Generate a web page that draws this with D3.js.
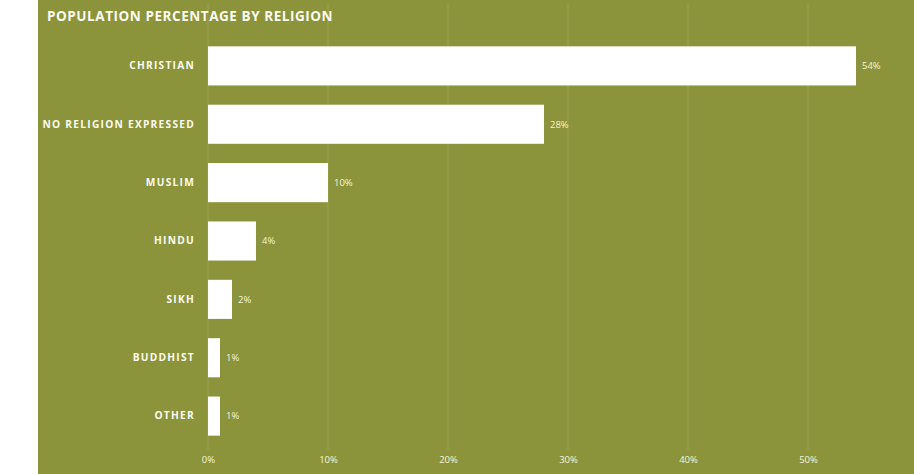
<!DOCTYPE html>
<html>
<head>
<meta charset="utf-8">
<script src="https://cdn.jsdelivr.net/npm/d3@7"></script>
<style>
  html, body { margin: 0; padding: 0; background: #ffffff; }
  svg { display: block; }
</style>
</head>
<body>
<svg id="chart" width="914" height="474"></svg>
<script>
const categories = ["CHRISTIAN", "NO RELIGION EXPRESSED", "MUSLIM", "HINDU", "SIKH", "BUDDHIST", "OTHER"];
const values = [54, 28, 10, 4, 2, 1, 1];
const tickValues = [0, 10, 20, 30, 40, 50];
const title = "POPULATION PERCENTAGE BY RELIGION";

const W = 914, H = 474;
const panel = { x: 38, y: 0, w: W - 38, h: 474 };
const plot = { left: 208, top: 37, bottom: 445 };

const svg = d3.select("#chart");
const bg = "#8b943a";

svg.append("rect")
  .attr("x", panel.x).attr("y", panel.y)
  .attr("width", panel.w).attr("height", panel.h)
  .attr("fill", bg);

const x = d3.scaleLinear().domain([0, 56]).range([plot.left, plot.left + 12 * 56]);
const y = d3.scaleBand().domain(categories)
  .range([plot.top, plot.bottom]).paddingInner(0.33).paddingOuter(0.16);

// vertical gridlines
svg.append("g").selectAll("line")
  .data(tickValues)
  .join("line")
  .attr("x1", d => x(d)).attr("x2", d => x(d))
  .attr("y1", 4).attr("y2", 450)
  .attr("stroke", "rgba(255,255,240,0.13)")
  .attr("stroke-width", 1);

// title
svg.append("text")
  .attr("x", 47).attr("y", 21)
  .attr("fill", "#fbfbf0")
  .attr("font-family", "'Open Sans', sans-serif")
  .attr("font-weight", 700)
  .attr("font-size", 13.5)
  .attr("letter-spacing", "0.55px")
  .text(title);

// bars
svg.append("g").selectAll("rect")
  .data(categories)
  .join("rect")
  .attr("x", x(0))
  .attr("y", d => y(d))
  .attr("width", (d, i) => x(values[i]) - x(0))
  .attr("height", y.bandwidth())
  .attr("fill", "#ffffff");

// category labels
const yAxis = d3.axisLeft(y).tickSize(0).tickPadding(13);
const ga = svg.append("g").attr("transform", `translate(${plot.left},0)`).call(yAxis);
ga.select(".domain").remove();
ga.selectAll("text")
  .attr("fill", "#fbfbf0")
  .attr("font-family", "'Open Sans', sans-serif")
  .attr("font-weight", 700)
  .attr("font-size", 10.2)
  .attr("letter-spacing", "1.25px");

// value labels
svg.append("g").selectAll("text")
  .data(categories)
  .join("text")
  .attr("x", (d, i) => x(values[i]) + 6)
  .attr("y", d => y(d) + y.bandwidth() / 2)
  .attr("dy", "0.35em")
  .attr("fill", "#f4f4dc")
  .attr("font-family", "'Open Sans', sans-serif")
  .attr("font-size", 9.5)
  .text((d, i) => values[i] + "%");

// x axis
const xAxis = d3.axisBottom(x).tickValues(tickValues).tickSize(0).tickPadding(0)
  .tickFormat(d => d + "%");
const gx = svg.append("g").attr("transform", "translate(0,456)").call(xAxis);
gx.select(".domain").remove();
gx.selectAll("text")
  .attr("fill", "#f4f4dc")
  .attr("font-family", "'Open Sans', sans-serif")
  .attr("font-size", 9.5);
</script>
</body>
</html>
